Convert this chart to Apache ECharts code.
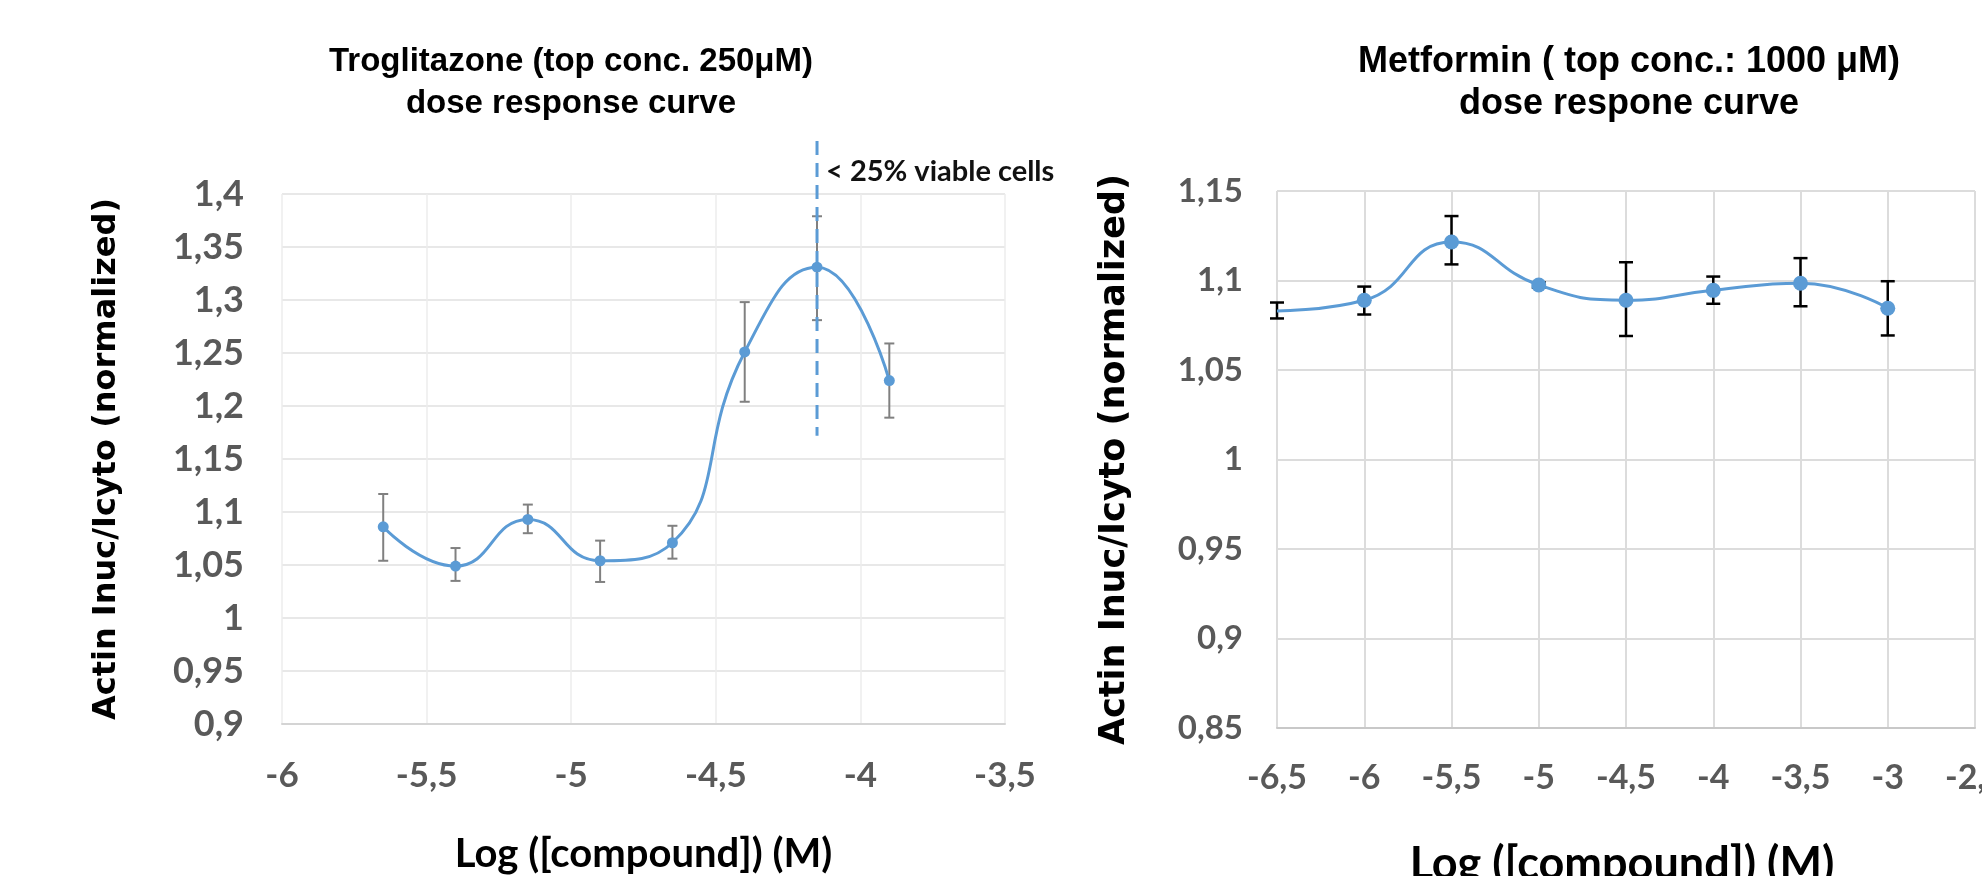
<!DOCTYPE html>
<html>
<head>
<meta charset="utf-8">
<script src="https://cdn.jsdelivr.net/npm/echarts@6/dist/echarts.min.js"></script>
<style>
html,body{margin:0;padding:0;background:#fff;}
#chart{width:1982px;height:876px;}
</style>
</head>
<body>
<div id="chart"></div>
<script>
// ---------- Data ----------
// Troglitazone (left chart)
const troX  = [-5.65, -5.4, -5.15, -4.9, -4.65, -4.4, -4.15, -3.9];
const troY  = [1.086, 1.049, 1.093, 1.054, 1.071, 1.251, 1.331, 1.224];
const troLo = [1.054, 1.035, 1.080, 1.034, 1.056, 1.204, 1.281, 1.189];
const troHi = [1.117, 1.066, 1.107, 1.073, 1.087, 1.298, 1.379, 1.259];

// Metformin (right chart)
const metX  = [-6.5, -6, -5.5, -5, -4.5, -4, -3.5, -3];
const metY  = [1.083, 1.089, 1.1215, 1.0975, 1.089, 1.0945, 1.0985, 1.0845];
const metLo = [1.0788, 1.081, 1.109, 1.096, 1.069, 1.087, 1.0856, 1.0693];
const metHi = [1.0877, 1.0966, 1.136, 1.099, 1.1102, 1.1022, 1.1125, 1.0996];

// Viability cutoff marker (left chart)
const cutoffX = -4.15;
const cutoffYTop = 1.45;
const cutoffYBottom = 1.172;
const cutoffLabelY = 1.421;
const cutoffLabel = '< 25% viable cells';

// Axis ranges
const troXAxis = {min: -6, max: -3.5, interval: 0.5};
const troYAxis = {min: 0.9, max: 1.4, interval: 0.05};
const metXAxis = {min: -6.5, max: -2.5, interval: 0.5};
const metYAxis = {min: 0.85, max: 1.15, interval: 0.05};

// Texts
const troTitle = 'Troglitazone (top conc. 250μM)\ndose response curve';
const metTitle = 'Metformin ( top conc.: 1000 μM)\ndose respone curve';
const yName = 'Actin Inuc/Icyto (normalized)';
const xName = 'Log ([compound]) (M)';

// ---------- Helpers ----------
const BLUE = '#5b9bd5';
const fmt = v => String(Number(v.toFixed(2))).replace('.', ',');
const zip3 = (a, b, c) => a.map((v, i) => [v, b[i], c[i]]);
const zip2 = (a, b) => a.map((v, i) => [v, b[i]]);

function errRender(capHalf, color, width) {
  return function (params, api) {
    const x = api.value(0), lo = api.value(1), hi = api.value(2);
    const a = api.coord([x, lo]), b = api.coord([x, hi]);
    const st = {stroke: color, lineWidth: width};
    return {type: 'group', children: [
      {type: 'line', shape: {x1: a[0], y1: a[1], x2: b[0], y2: b[1]}, style: st},
      {type: 'line', shape: {x1: a[0] - capHalf, y1: a[1], x2: a[0] + capHalf, y2: a[1]}, style: st},
      {type: 'line', shape: {x1: b[0] - capHalf, y1: b[1], x2: b[0] + capHalf, y2: b[1]}, style: st}
    ]};
  };
}

const tickFont = {fontFamily: 'Lato, Carlito, sans-serif', fontWeight: 'bold', color: '#595959'};
const yNameFont = {fontFamily: '"DejaVu Sans", sans-serif', fontWeight: 'bold', color: '#000'};
const xNameFont = {fontFamily: 'Lato, Carlito, sans-serif', fontWeight: 'bold', color: '#000'};

const chart = echarts.init(document.getElementById('chart'), null, {renderer: 'canvas'});

const option = {
  animation: false,
  backgroundColor: '#fff',
  title: [
    {text: troTitle, left: 566, top: 36, textAlign: 'center',
     textStyle: {fontFamily: '"Liberation Sans", Arial, sans-serif', fontWeight: 'bold', fontSize: 33, lineHeight: 42, color: '#000', align: 'center'}},
    {text: metTitle, left: 1624, top: 36, textAlign: 'center',
     textStyle: {fontFamily: '"Liberation Sans", Arial, sans-serif', fontWeight: 'bold', fontSize: 36, lineHeight: 42, color: '#000', align: 'center'}}
  ],
  grid: [
    {left: 282, top: 194, width: 723, height: 530, containLabel: false, outerBoundsMode: 'none'},
    {left: 1277, top: 191, width: 698, height: 537, containLabel: false, outerBoundsMode: 'none'}
  ],
  xAxis: [
    {type: 'value', gridIndex: 0, min: troXAxis.min, max: troXAxis.max, interval: troXAxis.interval,
     axisLine: {show: true, lineStyle: {color: '#d4d4d4', width: 2}}, axisTick: {show: false},
     splitLine: {show: true, lineStyle: {color: '#ececec', width: 1.5}},
     axisLabel: Object.assign({fontSize: 35, margin: 34, formatter: fmt}, tickFont),
     name: xName, nameLocation: 'middle', nameGap: 110,
     nameTextStyle: Object.assign({fontSize: 40}, xNameFont)},
    {type: 'value', gridIndex: 1, min: metXAxis.min, max: metXAxis.max, interval: metXAxis.interval,
     axisLine: {show: true, lineStyle: {color: '#c8c8c8', width: 2}}, axisTick: {show: false},
     splitLine: {show: true, lineStyle: {color: '#dcdcdc', width: 2}},
     axisLabel: Object.assign({fontSize: 34, margin: 33, formatter: fmt}, tickFont),
     name: xName, nameLocation: 'middle', nameGap: 114,
     nameTextStyle: Object.assign({fontSize: 45, padding: [0, 8, 0, 0]}, xNameFont)}
  ],
  yAxis: [
    {type: 'value', gridIndex: 0, min: troYAxis.min, max: troYAxis.max, interval: troYAxis.interval,
     axisLine: {show: false}, axisTick: {show: false},
     splitLine: {show: true, lineStyle: {color: '#e8e8e8', width: 2}},
     axisLabel: Object.assign({fontSize: 36, margin: 38, formatter: fmt}, tickFont),
     name: yName, nameLocation: 'middle', nameGap: 159,
     nameTextStyle: Object.assign({fontSize: 32}, yNameFont)},
    {type: 'value', gridIndex: 1, min: metYAxis.min, max: metYAxis.max, interval: metYAxis.interval,
     axisLine: {show: false}, axisTick: {show: false},
     splitLine: {show: true, lineStyle: {color: '#dcdcdc', width: 2}},
     axisLabel: Object.assign({fontSize: 33, margin: 34, formatter: fmt}, tickFont),
     name: yName, nameLocation: 'middle', nameGap: 145,
     nameTextStyle: Object.assign({fontSize: 35}, yNameFont)}
  ],
  series: [
    {type: 'custom', xAxisIndex: 0, yAxisIndex: 0, z: 2,
     renderItem: errRender(5, '#808080', 2), data: zip3(troX, troLo, troHi)},
    {type: 'line', xAxisIndex: 0, yAxisIndex: 0, z: 3, smooth: 0.5,
     symbol: 'circle', symbolSize: 11,
     lineStyle: {color: BLUE, width: 3}, itemStyle: {color: BLUE},
     data: zip2(troX, troY)},
    {type: 'custom', xAxisIndex: 0, yAxisIndex: 0, z: 4, clip: false,
     renderItem: function (params, api) {
       const x = api.value(0);
       const a = api.coord([x, api.value(1)]), b = api.coord([x, api.value(2)]);
       const t = api.coord([x, api.value(3)]);
       return {type: 'group', children: [
         {type: 'line', shape: {x1: a[0], y1: a[1], x2: b[0], y2: b[1]},
          style: {stroke: BLUE, lineWidth: 3, lineDash: [14, 8]}},
         {type: 'text', x: t[0] + 9, y: t[1],
          style: {text: cutoffLabel, fill: '#111', font: 'bold 29px Lato, Carlito, sans-serif',
                  textAlign: 'left', textVerticalAlign: 'middle'}}
       ]};
     },
     data: [[cutoffX, cutoffYTop, cutoffYBottom, cutoffLabelY]]},
    {type: 'custom', xAxisIndex: 1, yAxisIndex: 1, z: 2,
     renderItem: errRender(7, '#000', 2.5), data: zip3(metX, metLo, metHi)},
    {type: 'line', xAxisIndex: 1, yAxisIndex: 1, z: 3, smooth: 0.5,
     symbol: 'circle', symbolSize: (v, p) => (p.dataIndex === 0 ? 0 : 15),
     lineStyle: {color: BLUE, width: 3}, itemStyle: {color: BLUE},
     data: zip2(metX, metY)}
  ]
};
chart.setOption(option);
</script>
</body>
</html>
